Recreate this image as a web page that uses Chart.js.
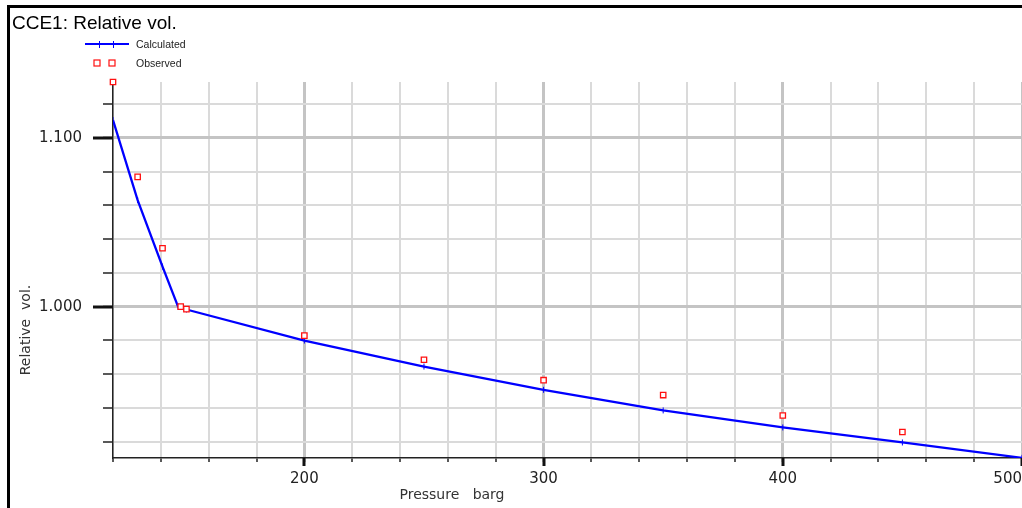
<!DOCTYPE html>
<html lang="en">
<head>
  <meta charset="UTF-8">
  <title>CCE1: Relative vol.</title>
  <script src="https://cdn.jsdelivr.net/npm/chart.js"></script>
  <style>
    body { margin: 0; background: #ffffff; overflow: hidden; }
    .wrap { position: relative; width: 1022px; height: 508px; overflow: hidden; }
    .wrap canvas { position: absolute; left: 0; top: 0; }
    .frame {
      position: absolute; left: 7px; top: 5px; width: 1100px; height: 600px;
      border-top: 3px solid #000; border-left: 3px solid #000; pointer-events: none;
    }
    .title {
      position: absolute; left: 12px; top: 12px;
      font: 19px "Liberation Sans", Arial, sans-serif; color: #000;
    }
    .ytitle {
      position: absolute; left: 25px; top: 330px; transform: translate(-50%, -50%) rotate(-90deg);
      font: 14px "DejaVu Sans", sans-serif; color: #333; white-space: pre;
    }
    .xtitle {
      position: absolute; left: 452px; top: 494px; transform: translate(-50%, -50%);
      font: 14px "DejaVu Sans", sans-serif; color: #333; white-space: pre;
    }
  </style>
</head>
<body>
  <div class="wrap">
    <canvas id="cceChart" width="1022" height="508"></canvas>
    <div class="frame"></div>
    <div class="title">CCE1: Relative vol.</div>
    <div class="ytitle">Relative  vol.</div>
    <div class="xtitle">Pressure   barg</div>
  </div>

  <script>
    // data
    var calcPressure = [120, 130.3, 140.7, 147.2, 150.7, 200, 250, 300, 350, 400, 450, 500];
    var calcRelVol   = [1.1105, 1.0631, 1.0237, 1.0000, 0.9983, 0.9799, 0.9645, 0.9507, 0.9385, 0.9284, 0.9195, 0.9104];

    var obsPressure = [120, 130.3, 140.7, 148.3, 150.7, 200, 250, 300, 350, 400, 450];
    var obsRelVol   = [1.1331, 1.0769, 1.0346, 1.0000, 0.9985, 0.9828, 0.9685, 0.9564, 0.9476, 0.9355, 0.9257];

    // axes
    var xRange = [120, 500];
    var yRange = [0.9103, 1.1331];
    var xGridTicks = [120, 140, 160, 180, 200, 220, 240, 260, 280, 300, 320, 340, 360, 380, 400, 420, 440, 460, 480, 500];
    var yGridTicks = [0.92, 0.94, 0.96, 0.98, 1.00, 1.02, 1.04, 1.06, 1.08, 1.10, 1.12];
    var xLabelled = [200, 300, 400, 500];
    var yLabelled = [1.00, 1.10];
    var yLabelText = ['1.000', '1.100'];

    var seriesNames = ['Calculated', 'Observed'];

    function isIn(list, v) {
      return list.some(function (m) { return Math.abs(m - v) < 1e-6; });
    }

    function toXY(xs, ys) {
      return xs.map(function (x, i) { return { x: x, y: ys[i] }; });
    }

    var gridColor = function (ctx, list) {
      return ctx.tick && isIn(list, ctx.tick.value) ? '#c4c4c4' : '#dadada';
    };
    var gridWidth = function (ctx, list) {
      return ctx.tick && isIn(list, ctx.tick.value) ? 3 : 2;
    };

    // longer, heavier ticks at the labelled values
    var majorTicks = {
      id: 'majorTicks',
      afterDraw: function (chart) {
        var ctx = chart.ctx, x = chart.scales.x, y = chart.scales.y;
        ctx.save();
        ctx.strokeStyle = '#111';
        ctx.lineWidth = 3;
        yLabelled.forEach(function (v) {
          var py = Math.round(y.getPixelForValue(v));
          ctx.beginPath(); ctx.moveTo(y.right - 20, py); ctx.lineTo(y.right, py); ctx.stroke();
        });
        xLabelled.forEach(function (v) {
          var px = Math.round(x.getPixelForValue(v));
          ctx.beginPath(); ctx.moveTo(px, x.top); ctx.lineTo(px, x.top + 8); ctx.stroke();
        });
        ctx.restore();
      }
    };

    // legend in the top left, like the original
    var sketchLegend = {
      id: 'sketchLegend',
      afterDraw: function (chart) {
        var ctx = chart.ctx;
        var calc = chart.data.datasets[1], obs = chart.data.datasets[0];
        ctx.save();
        ctx.strokeStyle = calc.borderColor;
        ctx.lineWidth = 2;
        ctx.beginPath(); ctx.moveTo(85, 44); ctx.lineTo(129, 44); ctx.stroke();
        ctx.lineWidth = 1;
        [99, 113].forEach(function (px) {
          ctx.beginPath(); ctx.moveTo(px + 0.5, 41); ctx.lineTo(px + 0.5, 48); ctx.stroke();
        });
        ctx.strokeStyle = obs.borderColor;
        ctx.lineWidth = 1.2;
        [97, 112].forEach(function (px) { ctx.strokeRect(px - 3, 60, 6, 6); });
        ctx.fillStyle = '#222';
        ctx.font = '10.5px "Liberation Sans", Arial, sans-serif';
        ctx.textBaseline = 'middle';
        ctx.fillText(calc.label, 136, 45);
        ctx.fillText(obs.label, 136, 64);
        ctx.restore();
      }
    };

    var cceCtx = document.getElementById('cceChart').getContext('2d');
    var cceChart = new Chart(cceCtx, {
      type: 'scatter',
      data: {
        datasets: [{
          label: seriesNames[1],
          data: toXY(obsPressure, obsRelVol),
          pointStyle: 'rect',
          radius: 3.8,
          borderWidth: 1.3,
          borderColor: '#ff1010',
          backgroundColor: '#ffffff',
          clip: false,
          order: 0
        }, {
          label: seriesNames[0],
          data: toXY(calcPressure, calcRelVol),
          showLine: true,
          borderColor: '#0000ff',
          backgroundColor: '#0000ff',
          borderWidth: 2.3,
          pointStyle: 'line',
          rotation: 90,
          radius: 3,
          pointBorderWidth: 1,
          order: 1
        }]
      },
      options: {
        responsive: false,
        animation: false,
        devicePixelRatio: 1,
        layout: { autoPadding: false, padding: { left: 0, right: 0, top: 82, bottom: 0 } },
        plugins: { legend: { display: false }, tooltip: { enabled: false } },
        scales: {
          x: {
            type: 'linear',
            min: xRange[0],
            max: xRange[1],
            afterBuildTicks: function (scale) {
              scale.ticks = xGridTicks.map(function (v) { return { value: v }; });
            },
            afterFit: function (scale) {
              scale.height = 50;
              scale.paddingLeft = 0;
              scale.paddingRight = 0;
            },
            ticks: {
              autoSkip: false,
              maxRotation: 0,
              align: 'inner',
              padding: 8,
              color: '#222',
              font: { family: '"DejaVu Sans", sans-serif', size: 15 },
              callback: function (v) { return isIn(xLabelled, v) ? String(v) : ''; }
            },
            grid: {
              color: function (ctx) { return gridColor(ctx, xLabelled); },
              lineWidth: function (ctx) { return gridWidth(ctx, xLabelled); },
              tickLength: 4,
              tickColor: '#222',
              tickWidth: 1.5
            },
            border: { color: '#222', width: 1.5 }
          },
          y: {
            type: 'linear',
            min: yRange[0],
            max: yRange[1],
            afterBuildTicks: function (scale) {
              scale.ticks = yGridTicks.map(function (v) { return { value: v }; });
            },
            afterFit: function (scale) { scale.width = 113; },
            ticks: {
              autoSkip: false,
              padding: 21,
              color: '#222',
              font: { family: '"DejaVu Sans", sans-serif', size: 15 },
              callback: function (v) {
                for (var i = 0; i < yLabelled.length; i++) {
                  if (Math.abs(yLabelled[i] - v) < 1e-6) return yLabelText[i];
                }
                return '';
              }
            },
            grid: {
              color: function (ctx) { return gridColor(ctx, yLabelled); },
              lineWidth: function (ctx) { return gridWidth(ctx, yLabelled); },
              tickLength: 10,
              tickColor: '#222',
              tickWidth: 1.5
            },
            border: { color: '#222', width: 1.5 }
          }
        }
      },
      plugins: [majorTicks, sketchLegend]
    });
  </script>
</body>
</html>
